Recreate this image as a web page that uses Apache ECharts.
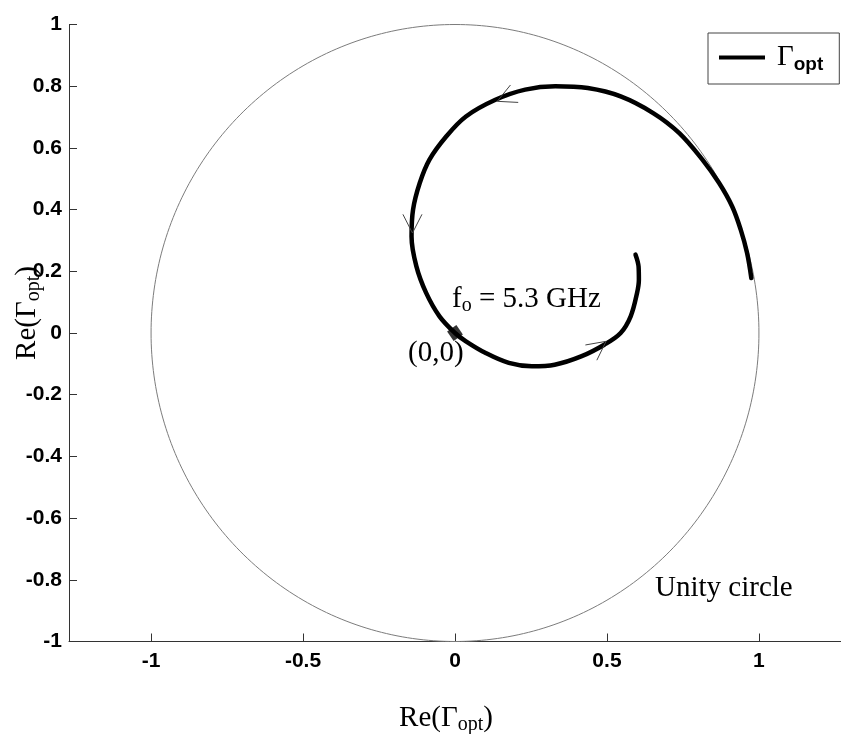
<!DOCTYPE html>
<html>
<head>
<meta charset="utf-8">
<script src="https://cdn.jsdelivr.net/npm/echarts@6/dist/echarts.min.js"></script>
<style>
  html, body { margin: 0; padding: 0; background: #fff; }
  #chart { width: 841px; height: 734px; }
</style>
</head>
<body>
<div id="chart"></div>
<script>
// Optimum reflection coefficient trajectory, listed in the direction of travel
// (outer end near the unity circle -> spiral inwards -> inner end).
const gammaRe = [0.975, 0.961, 0.940, 0.912, 0.869, 0.814, 0.738, 0.652, 0.545, 0.437,
                 0.330, 0.231, 0.133, 0.036, -0.029, -0.084, -0.116, -0.138, -0.143, -0.127,
                 -0.095, -0.051, 0.000, 0.036, 0.101, 0.177, 0.253, 0.328, 0.415, 0.491,
                 0.545, 0.578, 0.599, 0.605, 0.604, 0.594];
const gammaIm = [0.178, 0.259, 0.335, 0.410, 0.486, 0.562, 0.648, 0.713, 0.767, 0.794,
                 0.800, 0.789, 0.756, 0.702, 0.637, 0.562, 0.486, 0.400, 0.313, 0.216,
                 0.130, 0.054, 0.000, -0.027, -0.065, -0.097, -0.108, -0.103, -0.076, -0.038,
                 0.000, 0.054, 0.130, 0.173, 0.215, 0.254];

// Design-frequency point on the trajectory
const designPoint = [0, 0];

// Unity circle: centre x, centre y, radius
const unityCircle = [0, 0, 1];

// Direction arrows along the trajectory: position and heading (degrees, data frame)
const arrowX = [0.139, -0.140, 0.497];
const arrowY = [0.751, 0.324, -0.027];
const arrowHeading = [204, 270, 37];

// Tick values
const xTicks = [-1, -0.5, 0, 0.5, 1];
const yTicks = [-1, -0.8, -0.6, -0.4, -0.2, 0, 0.2, 0.4, 0.6, 0.8, 1];

const serif = '"Liberation Serif", "Times New Roman", serif';
const sans = '"Liberation Sans", Arial, sans-serif';

const chart = echarts.init(document.getElementById('chart'));

const axisCommon = {
  type: 'value',
  splitLine: { show: false },
  axisLine: { show: true, onZero: false, lineStyle: { color: '#333', width: 1 } },
  axisTick: { show: true, inside: true, length: 8, lineStyle: { color: '#333', width: 1 } },
  axisLabel: {
    color: '#000', fontFamily: sans, fontWeight: 'bold', fontSize: 21,
    formatter: v => String(v)
  }
};

chart.setOption({
  animation: false,
  backgroundColor: '#fff',
  grid: { left: 69, top: 24.5, width: 781, height: 617, containLabel: false },
  xAxis: Object.assign({}, axisCommon, {
    min: -1.27, max: 1.27,
    axisTick: Object.assign({}, axisCommon.axisTick, { customValues: xTicks }),
    axisLabel: Object.assign({}, axisCommon.axisLabel, { customValues: xTicks, margin: 9 })
  }),
  yAxis: Object.assign({}, axisCommon, {
    min: -1, max: 1,
    axisTick: Object.assign({}, axisCommon.axisTick, { customValues: yTicks }),
    axisLabel: Object.assign({}, axisCommon.axisLabel, { customValues: yTicks, margin: 7 })
  }),
  legend: {
    data: ['Γopt'],
    left: 708, top: 33,
    orient: 'vertical',
    selectedMode: false,
    icon: 'rect',
    itemWidth: 46, itemHeight: 4,
    padding: [10, 16, 10, 11],
    borderColor: '#444', borderWidth: 1,
    backgroundColor: '#fff',
    formatter: () => '{g|Γ}{s|opt}',
    textStyle: {
      rich: {
        g: { fontFamily: serif, fontSize: 29, color: '#000', padding: [0, 0, 0, 7] },
        s: { fontFamily: sans, fontWeight: 'bold', fontSize: 19, color: '#000', padding: [14, 0, 0, 0] }
      }
    }
  },
  series: [
    {
      name: 'unity',
      type: 'custom',
      coordinateSystem: 'cartesian2d',
      silent: true,
      z: 1,
      data: [unityCircle],
      encode: { x: 0, y: 1 },
      renderItem(params, api) {
        const cx = api.value(0), cy = api.value(1), r = api.value(2);
        const pts = [];
        for (let k = 0; k <= 360; k++) {
          const t = k * Math.PI / 180;
          pts.push(api.coord([cx + r * Math.cos(t), cy + r * Math.sin(t)]));
        }
        return { type: 'polyline', shape: { points: pts }, style: { stroke: '#7c7c7c', lineWidth: 1, fill: null } };
      }
    },
    {
      name: 'Γopt',
      type: 'line',
      z: 3,
      data: gammaRe.map((x, i) => [x, gammaIm[i]]),
      showSymbol: false,
      smooth: 0.35,
      color: '#000',
      lineStyle: { color: '#000', width: 4.5, cap: 'round', join: 'round' },
      itemStyle: { color: '#000' }
    },
    {
      name: 'arrows',
      type: 'custom',
      coordinateSystem: 'cartesian2d',
      silent: true,
      z: 4,
      data: arrowX.map((x, i) => [x, arrowY[i], arrowHeading[i]]),
      encode: { x: 0, y: 1 },
      renderItem(params, api) {
        const tip = api.coord([api.value(0), api.value(1)]);
        const a = api.value(2) * Math.PI / 180;
        // heading in screen space (y grows downward)
        const back = Math.atan2(Math.sin(a), -Math.cos(a));
        const spread = 27 * Math.PI / 180, len = 21;
        const arm = s => [tip[0] + len * Math.cos(back + s), tip[1] + len * Math.sin(back + s)];
        return {
          type: 'polyline',
          shape: { points: [arm(spread), tip, arm(-spread)] },
          style: { stroke: '#444', lineWidth: 1, fill: null }
        };
      }
    },
    {
      name: 'design',
      type: 'scatter',
      z: 5,
      silent: true,
      data: [designPoint],
      symbol: 'diamond',
      symbolSize: 16,
      symbolRotate: -10,
      itemStyle: { color: '#000' }
    }
  ],
  graphic: [
    {
      type: 'text', left: null, x: 446, y: 718, silent: true,
      style: {
        text: '{a|Re(Γ}{b|opt}{a|)}',
        align: 'center', verticalAlign: 'middle', textAlign: 'center', textVerticalAlign: 'middle',
        rich: {
          a: { fontFamily: serif, fontSize: 29, fill: '#000' },
          b: { fontFamily: serif, fontSize: 20, fill: '#000', padding: [14, 0, 0, 0] }
        }
      }
    },
    {
      type: 'text', x: 27, y: 313, rotation: Math.PI / 2, silent: true,
      style: {
        text: '{a|Re(Γ}{b|opt}{a|)}',
        align: 'center', verticalAlign: 'middle', textAlign: 'center', textVerticalAlign: 'middle',
        rich: {
          a: { fontFamily: serif, fontSize: 29, fill: '#000' },
          b: { fontFamily: serif, fontSize: 20, fill: '#000', padding: [14, 0, 0, 0] }
        }
      }
    },
    {
      type: 'text', x: 452, y: 299, silent: true,
      style: {
        text: '{a|f}{b|o}{a| = 5.3 GHz}',
        align: 'left', verticalAlign: 'middle', textAlign: 'left', textVerticalAlign: 'middle',
        rich: {
          a: { fontFamily: serif, fontSize: 29, fill: '#000' },
          b: { fontFamily: serif, fontSize: 20, fill: '#000', padding: [14, 0, 0, 0] }
        }
      }
    },
    {
      type: 'text', x: 408, y: 353, silent: true,
      style: {
        text: '(0,0)', fontFamily: serif, fontSize: 29, fill: '#000',
        align: 'left', verticalAlign: 'middle', textAlign: 'left', textVerticalAlign: 'middle'
      }
    },
    {
      type: 'text', x: 655, y: 588, silent: true,
      style: {
        text: 'Unity circle', fontFamily: serif, fontSize: 29, fill: '#000',
        align: 'left', verticalAlign: 'middle', textAlign: 'left', textVerticalAlign: 'middle'
      }
    }
  ]
});
</script>
</body>
</html>
